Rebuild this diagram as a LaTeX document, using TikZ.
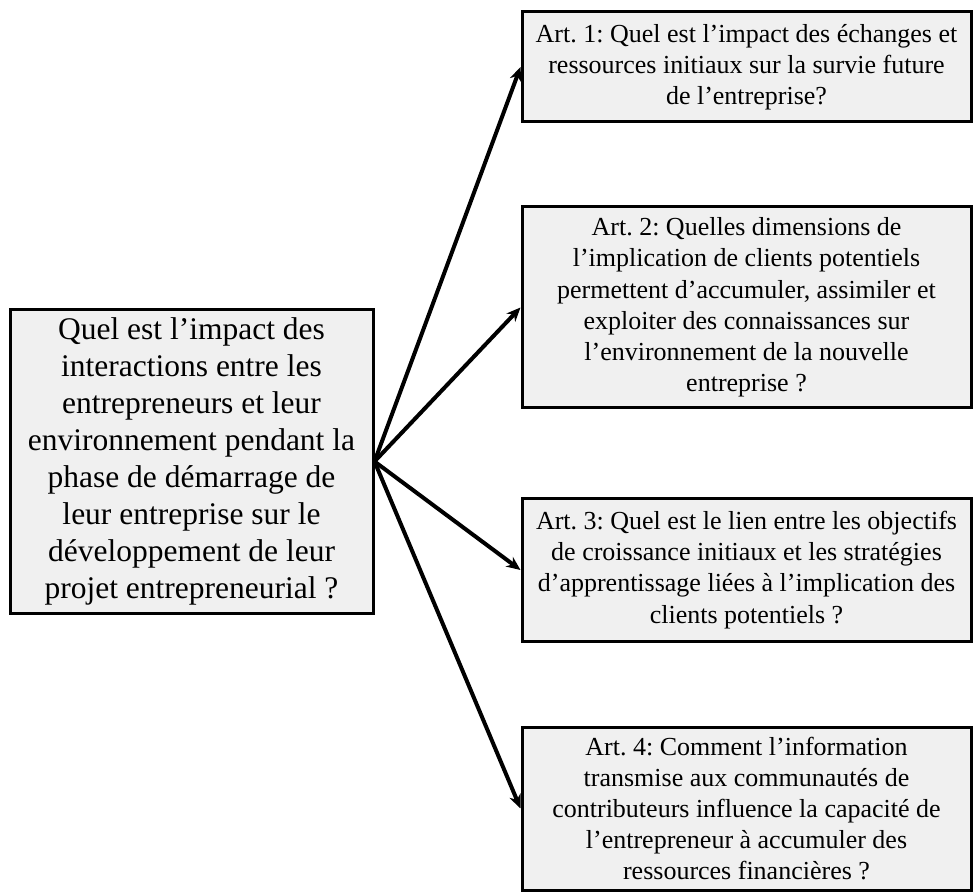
\documentclass[tikz,border=0pt]{standalone}
\usepackage{fontspec}
\setmainfont{Liberation Serif}
\frenchspacing
\usetikzlibrary{ % tikz packages
    positioning,
    arrows.meta
}
\definecolor{boxgray}{RGB}{240,240,240}
\tikzset{question/.style={
    draw=black,
    line width=1.5pt,
    fill=boxgray,
    align=center,
    inner sep=0pt,
    minimum width=181.5pt,
    minimum height=151.5pt,
    font=\fontsize{15.75}{18.5}\selectfont
}}
\tikzset{article/.style={
    question,
    minimum width=224.5pt,
    font=\fontsize{13}{15.6}\selectfont
}}
\tikzset{>={Stealth[length=7pt,width=6pt]}}

\begin{document}
\begin{tikzpicture}[on grid]
        \useasboundingbox (0,0) rectangle (487pt,-446pt);

        \node[question] (q) at (95.75pt,-230.75pt)
            {Quel est l’impact des\\ interactions entre les\\ entrepreneurs et leur\\
             environnement pendant la\\ phase de démarrage de\\ leur entreprise sur le\\
             développement de leur\\ projet entrepreneurial ?};

        \node[article, minimum height=55pt] (a1) [above right=197.25pt and 277.5pt of q]
            {Art. 1: Quel est l’impact des échanges et\\ ressources initiaux sur la survie future\\
             de l’entreprise?};
        \node[article, minimum height=100.5pt] (a2) [below=120.25pt of a1]
            {Art. 2: Quelles dimensions de\\ l’implication de clients potentiels\\
             permettent d’accumuler, assimiler et\\ exploiter des connaissances sur\\
             l’environnement de la nouvelle\\ entreprise ?};
        \node[article, minimum height=71pt] (a3) [below=131.25pt of a2]
            {Art. 3: Quel est le lien entre les objectifs\\ de croissance initiaux et les stratégies\\
             d’apprentissage liées à l’implication des\\ clients potentiels ?};
        \node[article, minimum height=81.5pt] (a4) [below=119.25pt of a3]
            {Art. 4: Comment l’information\\ transmise aux communautés de\\
             contributeurs influence la capacité de\\ l’entrepreneur à accumuler des\\
             ressources financières ?};

        \path[->, line width=2pt]
            (q.east)
                edge (a1.west)
                edge (a2.west)
                edge (a3.west)
                edge (a4.west);
    \end{tikzpicture}
\end{document}
